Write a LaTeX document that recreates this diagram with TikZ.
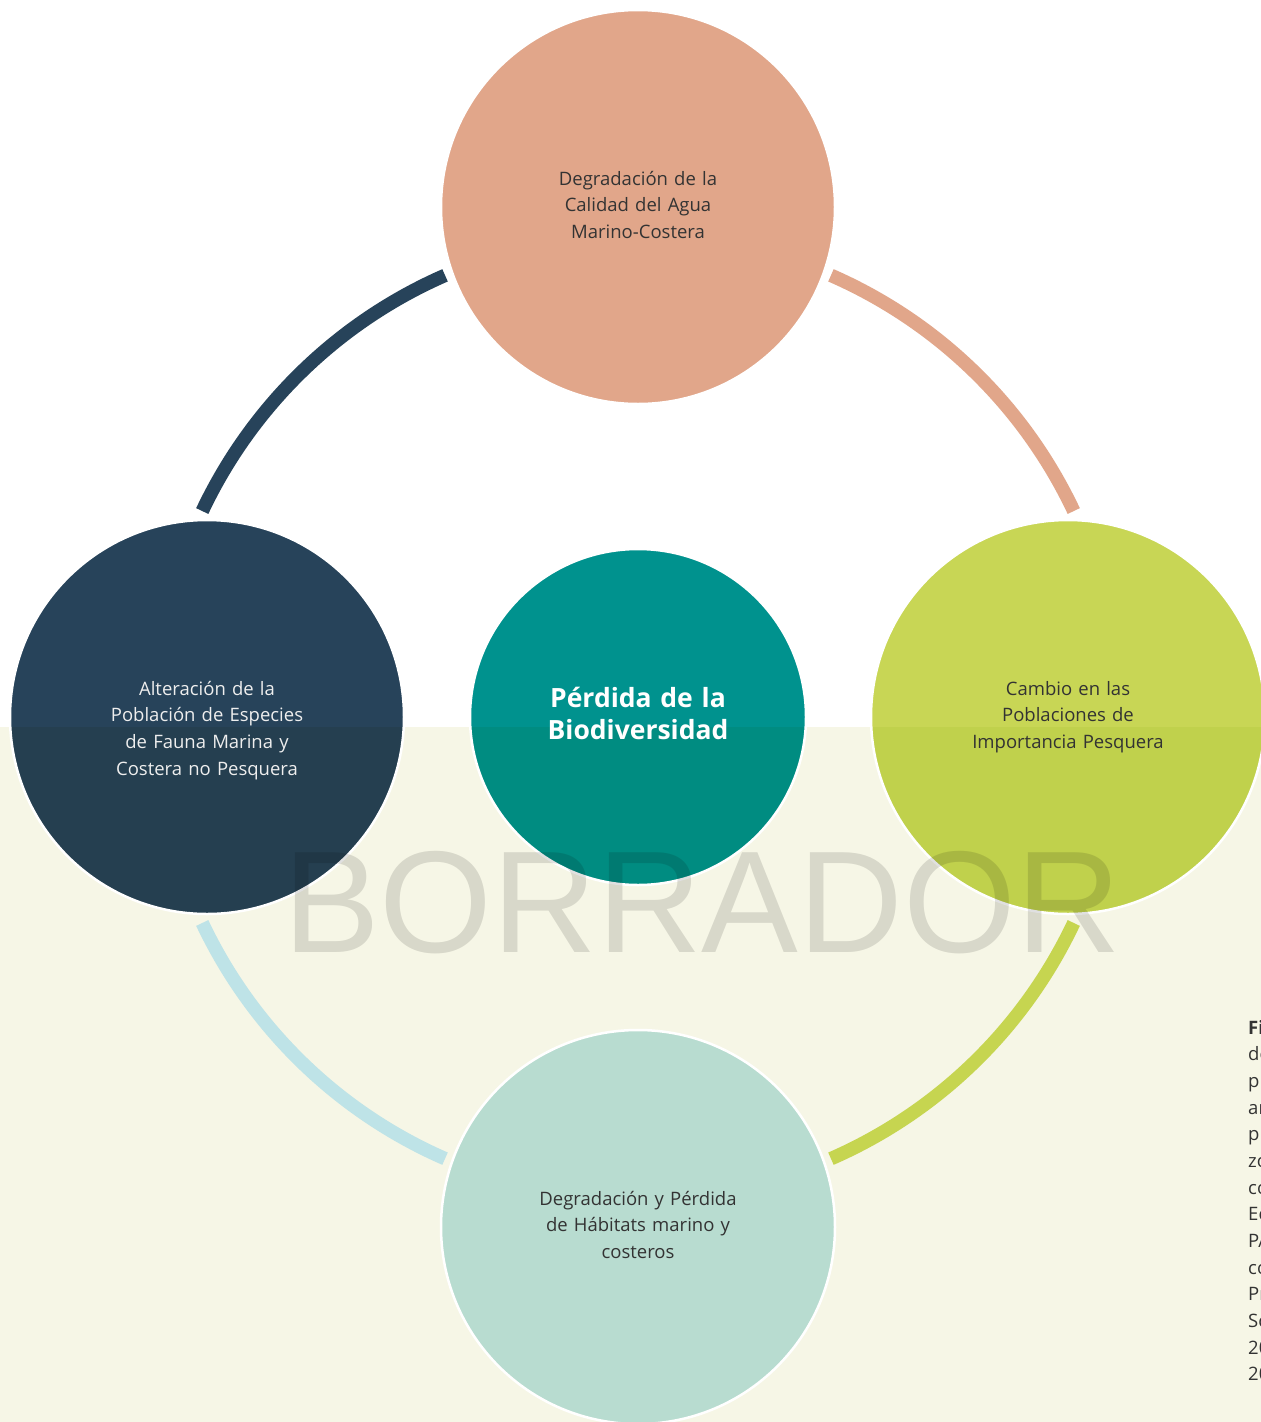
\documentclass[tikz,border=0pt]{standalone}
\usepackage{fontspec}
\setmainfont{Open Sans}
\newfontfamily\wmfont{Liberation Sans}
\definecolor{salmonc}{HTML}{E1A68A}
\definecolor{navyup}{HTML}{27435A}
\definecolor{navylow}{HTML}{253F50}
\definecolor{limeup}{HTML}{C8D655}
\definecolor{limelow}{HTML}{C0D14C}
\definecolor{tealup}{HTML}{00928E}
\definecolor{teallow}{HTML}{008C81}
\definecolor{mintc}{HTML}{B8DCD0}
\definecolor{skyarc}{HTML}{BEE3E7}
\definecolor{limearc}{HTML}{C6D550}
\definecolor{beigec}{HTML}{F6F6E6}
\definecolor{txt}{HTML}{333333}
\definecolor{lighttxt}{HTML}{EEEEEE}
\begin{document}
\begin{tikzpicture}[x=1pt,y=-1pt,
  bubble/.style={circle, minimum size=394pt, inner sep=0pt, draw=white, line width=2.5pt},
  hubstyle/.style={circle, minimum size=336pt, inner sep=0pt, draw=white, line width=2.5pt},
  lowerpart/.style={path picture={\fill[#1] (path picture bounding box.south west) rectangle (path picture bounding box.east |- split);}},
  linkarc/.style={line width=13.5pt},
  lbl/.style={text width=330pt, align=center, anchor=base, inner sep=0pt, font=\fontsize{18.5}{26.7}\selectfont},
  ttl/.style={text width=330pt, align=center, anchor=base, inner sep=0pt, text=white, font=\bfseries\fontsize{26.5}{32}\selectfont},
  captext/.style={anchor=base west, inner sep=0pt, text=txt, font=\fontsize{18.5}{26.7}\selectfont}
]
\useasboundingbox (0,0) rectangle (1261,1422);
% background
\fill[white] (0,0) rectangle (1261,727);
\fill[beigec] (0,727) rectangle (1261,1422);
\coordinate (split) at (0,727);
\coordinate (o) at (638,717);

% connecting arcs
\draw[linkarc, navyup] (o) ++(205.3:482) arc[start angle=205.3, end angle=246.4, radius=482];
\draw[linkarc, salmonc] (o) ++(293.6:482) arc[start angle=293.6, end angle=334.7, radius=482];
\draw[linkarc, limearc] (o) ++(25.3:482) arc[start angle=25.3, end angle=66.4, radius=482];
\draw[linkarc, skyarc] (o) ++(113.6:482) arc[start angle=113.6, end angle=154.7, radius=482];

% circles
\node[bubble, fill=salmonc] (top) at (638,207) {};
\node[bubble, fill=navyup, lowerpart=navylow] (left) at (207,717) {};
\node[bubble, fill=limeup, lowerpart=limelow] (right) at (1068,717) {};
\node[bubble, fill=mintc] (bottom) at (638,1227) {};
\node[hubstyle, fill=tealup, lowerpart=teallow] (hub) at (o) {};

% labels
\node[lbl, text=txt] (ttop) at (638,185) {Degradación de la\\Calidad del Agua\\Marino-Costera};
\node[lbl, text=lighttxt] (tleft) at (207,695) {Alteración de la\\Población de Especies\\de Fauna Marina y\\Costera no Pesquera};
\node[lbl, text=txt] (tright) at (1068,695) {Cambio en las\\Poblaciones de\\Importancia Pesquera};
\node[lbl, text=txt] (tbottom) at (638,1205) {Degradación y Pérdida\\de Hábitats marino y\\costeros};
\node[ttl] (thub) at (638,707) {Pérdida de la\\Biodiversidad};

% watermark
\node[anchor=base, inner sep=0pt, text=black, text opacity=0.12, font=\wmfont\fontsize{145}{145}\selectfont] (wm) at (702,952) {BORRADOR};

% clipped caption (cut off by the page edge, as in the source)
\node[captext, font=\bfseries\fontsize{18.5}{26.7}\selectfont] (c1) at (1248,1034) {Fi};
\node[captext] (c2) at (1248,1060.7) {de};
\node[captext] (c3) at (1248,1087.3) {pr};
\node[captext] (c4) at (1248,1114) {ar};
\node[captext] (c5) at (1248,1140.7) {pr};
\node[captext] (c6) at (1248,1167.3) {zo};
\node[captext] (c7) at (1248,1194) {co};
\node[captext] (c8) at (1248,1220.7) {Ec};
\node[captext] (c9) at (1248,1247.3) {PA};
\node[captext] (c10) at (1248,1274) {co};
\node[captext] (c11) at (1248,1300.7) {Pr};
\node[captext] (c12) at (1248,1327.3) {Sc};
\node[captext] (c13) at (1248,1354) {20};
\node[captext] (c14) at (1248,1380.7) {20};
\end{tikzpicture}
\end{document}
